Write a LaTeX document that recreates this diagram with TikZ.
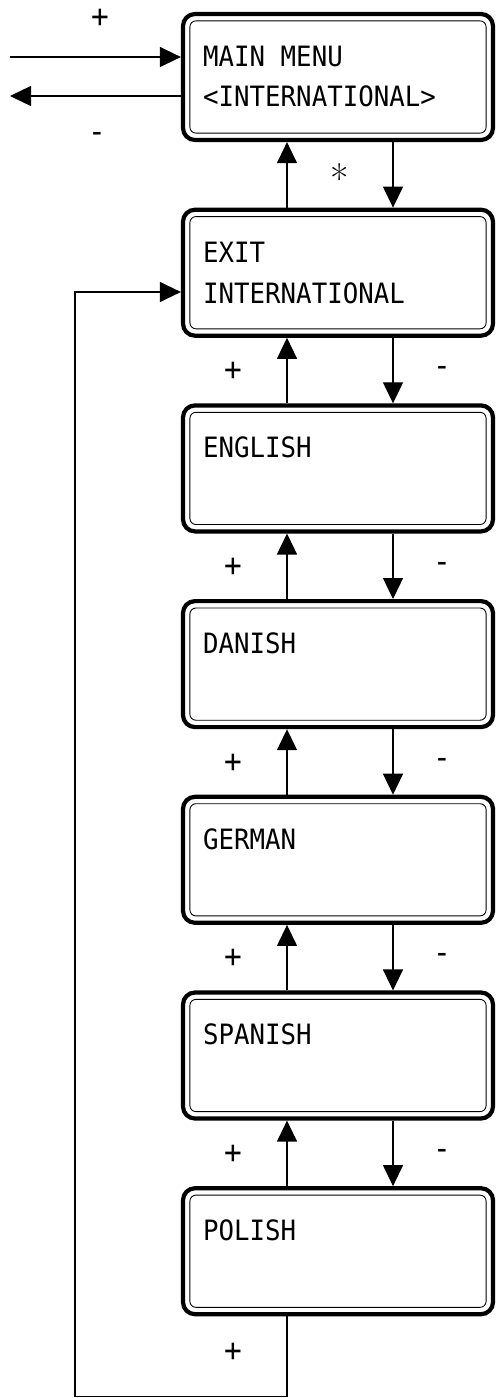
\documentclass[tikz,border=0pt]{standalone}
\usepackage{fontspec}
\newfontfamily\monofont[FakeStretch=0.92]{DejaVu Sans Mono}
\usetikzlibrary{arrows.meta,calc}
\begin{document}
\begin{tikzpicture}[x=1pt,y=-1pt,
  box/.style={draw, line width=4.2pt, rounded corners=12pt, minimum width=310pt, minimum height=126pt, inner sep=0pt},
  inbox/.style={draw, line width=0.9pt, rounded corners=6pt},
  txt/.style={anchor=base west, inner sep=0pt, font=\monofont\fontsize{28}{30}\selectfont},
  lab/.style={inner sep=0pt, font=\monofont\fontsize{32}{34}\selectfont},
  conn/.style={line width=1.3pt, -{Triangle[length=21pt,width=20pt]}},
  plain/.style={line width=1.3pt}
]
\useasboundingbox (0,0) rectangle (497,1398);
% boxes
\foreach \n/\y in {b0/77, b1/272.7, b2/468.4, b3/664.1, b4/859.8, b5/1055.5, b6/1251.2} {
  \node[box] (\n) at (338,\y) {};
  \draw[inbox] ($(\n.north west)+(9,9)$) rectangle ($(\n.south east)+(-9,-9)$);
}
% texts
\node[txt] (t0a) at (203,66) {MAIN MENU};
\node[txt] (t0b) at (203,106) {<INTERNATIONAL>};
\node[txt] (t1a) at (203,262) {EXIT};
\node[txt] (t1b) at (203,303) {INTERNATIONAL};
\node[txt] (t2) at (203,457) {ENGLISH};
\node[txt] (t3) at (203,653) {DANISH};
\node[txt] (t4) at (203,849) {GERMAN};
\node[txt] (t5) at (203,1044) {SPANISH};
\node[txt] (t6) at (203,1240) {POLISH};
% vertical connectors
\foreach \a/\b in {b0/b1, b1/b2, b2/b3, b3/b4, b4/b5, b5/b6} {
  \draw[conn] ($(\b.north)+(-51,0)$) -- ($(\a.south)+(-51,0)$);
  \draw[conn] ($(\a.south)+(55,0)$) -- ($(\b.north)+(55,0)$);
}
% main menu side arrows
\coordinate (inL) at (10,57);
\coordinate (outL) at (10,96);
\draw[conn] (inL) -- (inL -| b0.west);
\draw[conn] (outL -| b0.west) -- (outL);
% loop back
\coordinate (lp1) at ($(b6.south)+(-51,80)$);
\coordinate (lp2) at (75,1397);
\coordinate (lp3) at (75,292);
\draw[conn] ($(b6.south)+(-51,0)$) -- (lp1) -- (lp1 -| lp2) -- (lp3) -- (lp3 -| b1.west);
% labels
\node[lab] (lp) at (100,18) {+};
\node[lab] (lm) at (97,137) {-};
\node[anchor=base, inner sep=0pt, font=\fontsize{40}{42}\selectfont] (ls) at (340,193) {*};
\foreach \y [count=\i] in {371.7, 567.4, 763.1, 958.8, 1154.5} {
  \node[lab] (pl\i) at (233,\y) {+};
  \node[lab] (mi\i) at (442,\y) {-};
}
\node[lab] (pl6) at (233,1352) {+};
\end{tikzpicture}
\end{document}
